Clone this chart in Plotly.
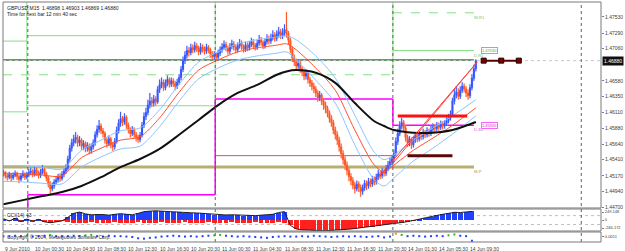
import plotly.graph_objects as go

# ---------------- data (M15 bars, bar index 0 = 9 Jun 2010 20:45) ----------------
first_open = 1.4520
close = [
 1.4522,1.4517,1.4515,1.4519,1.4514,1.4518,1.4521,1.4516,1.4512,1.4517,
 1.4520,1.4515,1.4518,1.4522,1.4524,1.4519,1.4526,1.4521,1.4518,1.4523,
 1.4527,1.4520,1.4514,1.4505,1.4498,1.4502,1.4508,1.4511,1.4516,1.4513,
 1.4519,1.4524,1.4528,1.4542,1.4558,1.4566,1.4571,1.4574,1.4566,1.4570,
 1.4561,1.4565,1.4558,1.4562,1.4555,1.4560,1.4566,1.4578,1.4586,1.4591,
 1.4584,1.4580,1.4570,1.4565,1.4572,1.4563,1.4560,1.4568,1.4584,1.4595,
 1.4602,1.4597,1.4604,1.4592,1.4585,1.4580,1.4586,1.4578,1.4574,1.4571,
 1.4577,1.4592,1.4605,1.4611,1.4622,1.4628,1.4625,1.4631,1.4627,1.4645,
 1.4652,1.4656,1.4648,1.4655,1.4660,1.4653,1.4658,1.4654,1.4650,1.4656,
 1.4663,1.4675,1.4688,1.4696,1.4703,1.4700,1.4707,1.4704,1.4710,1.4706,
 1.4701,1.4708,1.4705,1.4702,1.4708,1.4704,1.4698,1.4694,1.4697,1.4693,
 1.4699,1.4704,1.4708,1.4712,1.4707,1.4702,1.4709,1.4713,1.4708,1.4704,
 1.4710,1.4714,1.4709,1.4705,1.4711,1.4707,1.4712,1.4716,1.4711,1.4708,
 1.4714,1.4719,1.4715,1.4710,1.4716,1.4720,1.4717,1.4722,1.4726,1.4721,
 1.4727,1.4731,1.4725,1.4729,1.4734,1.4728,1.4718,1.4705,1.4692,1.4686,
 1.4680,1.4684,1.4676,1.4671,1.4665,1.4669,1.4660,1.4655,1.4650,1.4646,
 1.4640,1.4633,1.4637,1.4628,1.4622,1.4617,1.4610,1.4602,1.4596,1.4585,
 1.4578,1.4570,1.4560,1.4550,1.4541,1.4533,1.4525,1.4516,1.4510,1.4503,
 1.4498,1.4505,1.4500,1.4494,1.4499,1.4506,1.4502,1.4509,1.4505,1.4512,
 1.4508,1.4515,1.4520,1.4517,1.4524,1.4521,1.4528,1.4533,1.4538,1.4542,
 1.4550,1.4568,1.4580,1.4591,1.4596,1.4588,1.4574,1.4566,1.4571,1.4563,
 1.4570,1.4576,1.4572,1.4579,1.4575,1.4582,1.4578,1.4584,1.4580,1.4586,
 1.4590,1.4587,1.4592,1.4589,1.4594,1.4591,1.4595,1.4599,1.4603,1.4608,
 1.4628,1.4637,1.4641,1.4635,1.4644,1.4650,1.4646,1.4640,1.4636,1.4648,
 1.4662,1.4676,1.4688]
high = [
 1.4526,1.4524,1.4520,1.4523,1.4521,1.4522,1.4525,1.4523,1.4519,1.4521,
 1.4525,1.4522,1.4523,1.4527,1.4529,1.4527,1.4531,1.4529,1.4525,1.4527,
 1.4533,1.4530,1.4523,1.4517,1.4509,1.4507,1.4512,1.4516,1.4520,1.4521,
 1.4524,1.4529,1.4534,1.4547,1.4563,1.4572,1.4578,1.4582,1.4578,1.4576,
 1.4573,1.4570,1.4568,1.4567,1.4565,1.4565,1.4571,1.4583,1.4592,1.4600,
 1.4595,1.4588,1.4583,1.4574,1.4577,1.4575,1.4567,1.4573,1.4590,1.4601,
 1.4612,1.4606,1.4610,1.4607,1.4596,1.4589,1.4591,1.4589,1.4582,1.4578,
 1.4582,1.4597,1.4611,1.4618,1.4630,1.4640,1.4634,1.4637,1.4635,1.4650,
 1.4660,1.4663,1.4660,1.4660,1.4666,1.4663,1.4663,1.4662,1.4658,1.4661,
 1.4668,1.4680,1.4694,1.4702,1.4710,1.4708,1.4713,1.4712,1.4716,1.4714,
 1.4710,1.4714,1.4712,1.4709,1.4713,1.4711,1.4707,1.4702,1.4702,1.4700,
 1.4704,1.4709,1.4714,1.4718,1.4716,1.4710,1.4714,1.4719,1.4717,1.4711,
 1.4715,1.4720,1.4718,1.4712,1.4716,1.4715,1.4717,1.4722,1.4720,1.4714,
 1.4719,1.4726,1.4723,1.4718,1.4721,1.4727,1.4725,1.4728,1.4733,1.4730,
 1.4733,1.4738,1.4735,1.4736,1.4742,1.4760,1.4732,1.4722,1.4709,1.4697,
 1.4691,1.4690,1.4688,1.4680,1.4675,1.4675,1.4672,1.4664,1.4659,1.4655,
 1.4650,1.4644,1.4643,1.4640,1.4632,1.4627,1.4621,1.4614,1.4607,1.4600,
 1.4590,1.4583,1.4575,1.4565,1.4555,1.4546,1.4538,1.4530,1.4521,1.4515,
 1.4508,1.4510,1.4509,1.4504,1.4504,1.4511,1.4510,1.4514,1.4513,1.4517,
 1.4516,1.4520,1.4526,1.4524,1.4529,1.4528,1.4533,1.4539,1.4544,1.4548,
 1.4556,1.4574,1.4587,1.4598,1.4603,1.4600,1.4592,1.4578,1.4576,1.4574,
 1.4575,1.4581,1.4579,1.4584,1.4582,1.4587,1.4585,1.4589,1.4587,1.4591,
 1.4595,1.4594,1.4597,1.4596,1.4599,1.4598,1.4600,1.4604,1.4609,1.4614,
 1.4633,1.4645,1.4650,1.4647,1.4650,1.4656,1.4654,1.4650,1.4645,1.4653,
 1.4668,1.4682,1.4690]
low = [
 1.4516,1.4513,1.4510,1.4512,1.4509,1.4511,1.4515,1.4511,1.4506,1.4509,
 1.4514,1.4511,1.4512,1.4515,1.4518,1.4515,1.4516,1.4517,1.4513,1.4514,
 1.4519,1.4516,1.4509,1.4500,1.4490,1.4494,1.4498,1.4504,1.4507,1.4508,
 1.4510,1.4515,1.4520,1.4525,1.4538,1.4553,1.4561,1.4565,1.4560,1.4561,
 1.4556,1.4555,1.4552,1.4553,1.4549,1.4550,1.4556,1.4562,1.4574,1.4581,
 1.4579,1.4574,1.4565,1.4559,1.4561,1.4558,1.4554,1.4556,1.4565,1.4580,
 1.4590,1.4591,1.4593,1.4587,1.4580,1.4574,1.4576,1.4573,1.4568,1.4566,
 1.4567,1.4574,1.4588,1.4600,1.4607,1.4617,1.4619,1.4620,1.4621,1.4624,
 1.4640,1.4647,1.4643,1.4644,1.4650,1.4648,1.4649,1.4649,1.4644,1.4646,
 1.4652,1.4659,1.4671,1.4683,1.4691,1.4694,1.4696,1.4699,1.4700,1.4701,
 1.4696,1.4697,1.4700,1.4697,1.4698,1.4699,1.4692,1.4689,1.4690,1.4688,
 1.4690,1.4695,1.4700,1.4704,1.4702,1.4697,1.4698,1.4705,1.4703,1.4699,
 1.4700,1.4706,1.4704,1.4700,1.4701,1.4702,1.4703,1.4708,1.4706,1.4703,
 1.4704,1.4710,1.4710,1.4705,1.4706,1.4712,1.4712,1.4713,1.4718,1.4716,
 1.4717,1.4722,1.4720,1.4720,1.4724,1.4722,1.4712,1.4699,1.4686,1.4680,
 1.4674,1.4676,1.4670,1.4665,1.4659,1.4660,1.4654,1.4649,1.4644,1.4640,
 1.4634,1.4627,1.4628,1.4622,1.4615,1.4610,1.4604,1.4596,1.4590,1.4579,
 1.4571,1.4563,1.4553,1.4543,1.4534,1.4526,1.4518,1.4509,1.4503,1.4497,
 1.4491,1.4494,1.4493,1.4486,1.4489,1.4495,1.4496,1.4498,1.4500,1.4501,
 1.4503,1.4504,1.4511,1.4512,1.4513,1.4516,1.4517,1.4524,1.4529,1.4533,
 1.4537,1.4546,1.4563,1.4576,1.4586,1.4582,1.4568,1.4560,1.4561,1.4557,
 1.4559,1.4566,1.4567,1.4568,1.4570,1.4571,1.4573,1.4574,1.4575,1.4576,
 1.4582,1.4582,1.4583,1.4584,1.4585,1.4586,1.4587,1.4591,1.4595,1.4599,
 1.4604,1.4623,1.4632,1.4630,1.4631,1.4640,1.4641,1.4634,1.4630,1.4632,
 1.4644,1.4658,1.4672]

# moving averages read at sample bars
ma_idx = [0,10,20,30,40,50,60,70,80,90,100,110,120,130,140,145,150,160,170,180,190,195,200,210,220,230,242]
ma_slow = [1.4475,1.4481,1.4487,1.4493,1.4502,1.4515,1.4530,1.4542,1.4557,1.4578,1.4600,1.4622,1.4640,1.4652,
           1.4667,1.4672,1.4674,1.4670,1.4655,1.4625,1.4598,1.4591,1.4585,1.4581,1.4581,1.4585,1.4597]
ma_fast = [1.4521,1.4520,1.4518,1.4517,1.4544,1.4558,1.4570,1.4575,1.4603,1.4641,1.4674,1.4689,1.4701,1.4707,
           1.4711,1.4713,1.4704,1.4677,1.4644,1.4585,1.4533,1.4523,1.4533,1.4555,1.4573,1.4592,1.4618]
band_upper = [1.4532,1.4532,1.4530,1.4527,1.4555,1.4570,1.4584,1.4588,1.4615,1.4653,1.4686,1.4701,1.4713,1.4719,
              1.4723,1.4725,1.4719,1.4695,1.4662,1.4607,1.4552,1.4541,1.4548,1.4570,1.4588,1.4606,1.4630]
band_lower = [1.4509,1.4508,1.4506,1.4505,1.4530,1.4545,1.4557,1.4561,1.4590,1.4628,1.4661,1.4677,1.4689,1.4695,
              1.4699,1.4701,1.4689,1.4659,1.4625,1.4563,1.4511,1.4502,1.4514,1.4539,1.4558,1.4579,1.4606]

# CCI window, read every 3 bars
cci = [30,-20,40,-30,20,-25,15,-40,-60,-45,
       -20,60,150,180,140,120,130,125,110,130,
       145,130,120,150,190,200,210,200,190,180,
       175,170,165,160,150,140,125,120,115,120,
       110,100,105,100,110,115,130,170,190,-120,
       -200,-220,-230,-240,-235,-240,-235,-230,-220,-205,
       -190,-175,-160,-145,-130,-110,-95,-75,-55,-35,
       -15,20,50,80,110,130,150,175,170,185,195]
cci_trend = [0,0,0,0,0,0,0,0,0,0,
             0,-50,-55,-60,-55,-50,-55,-60,-55,-50,
             -55,-60,-55,-50,-55,-60,-55,-50,-55,-60,
             -55,-50,-55,-60,-55,-50,-55,-60,-55,-50,
             -55,-60,-55,-50,-55,-60,-55,-50,-55,0,
             0,0,0,0,0,0,0,0,0,0,
             0,0,0,0,0,0,0,0,0,0,
             0,0,0,0,0,0,0,0,0,0,0]
osc = [0.2,0.1,0.3,0.2,0.4,0.1,0.2,0.3,0.5,0.2,
       0.1,0.2,0.3,0.2,0.4,0.5,0.2,0.1,0.3,0.2,
       0.2,0.1,0.0,-0.3,-0.4,-0.2,-0.1,0.1,0.2,0.3,
       0.2,0.1,0.2,0.1,0.2,0.3,0.4,0.5,0.3,0.2,
       0.1,0.2,0.1,0.0,-0.1,-0.2,0.0,0.1,0.2,0.1,
       0.1,0.2,0.1,0.3,0.2,0.1,0.0,0.1,0.2,0.1,
       0.2,0.1,0.0,0.1,0.2,-0.1,0.1,0.8,0.5,0.2,
       0.3,0.2,0.1,0.2,0.3,0.2,0.4,0.6,0.3,0.2,-0.9]

# levels
bid = 1.46880
day_sep = [12.5, 108.5, 199.5]
future_sep = 296
green_hi = [1.4717, 1.4725]      # 9 Jun, 10 Jun
green_lo = [1.4612, 1.4621]
d_r1 = 1.4703                    # 14 Jun
weekly_r1 = [1.4667, 1.4759]     # previous week, this week
day_low = [1.4489, 1.4631, 1.4592]   # 10, 11, 14 Jun
open_11 = 1.4547
m_pivot = 1.4530
dk_green = 1.4689
zone_res = (202, 237.6, 1.4606)
zone_sup = (207, 230, 1.4547)
proj_idx = [246, 255, 264]
proj_price = 1.4688
trend_a = ([191, 242.7], [1.4511, 1.4686])
trend_b = ([199.6, 242.7], [1.4536, 1.4686])
line_end = 241

price_ticks = [1.47530,1.47290,1.47060,1.46580,1.46350,1.46110,1.45880,1.45640,1.45410,1.45170,1.44940,1.44700]
cci_ticks = [180, 0, -180]
cci_tick_text = ["249.148", "0", "-246.172"]
time_tick_idx = [0,15,31,47,63,79,95,111,127,143,159,175,191,206,222,238]
time_tick_text = ["9 Jun 2010","10 Jun 00:30","10 Jun 04:30","10 Jun 08:30","10 Jun 12:30","10 Jun 16:30",
                  "10 Jun 20:30","11 Jun 00:30","11 Jun 04:30","11 Jun 08:30","11 Jun 12:30","11 Jun 16:30",
                  "11 Jun 20:30","14 Jun 01:30","14 Jun 05:30","14 Jun 09:30"]

# ---------------- figure ----------------
n = len(close)
idx = list(range(n))
open_ = [first_open] + close[:-1]
cci_idx = [3 * k for k in range(len(cci))]
osc_idx = [3 * k for k in range(len(osc))]

X0, X1 = -0.21, 306.1
Y0, Y1 = 1.44693, 1.47750
FONT = "Liberation Sans"

fig = go.Figure()

# pale halo behind bars
fig.add_trace(go.Candlestick(
    x=idx, open=open_, high=high, low=low, close=close, whiskerwidth=0,
    increasing=dict(line=dict(color="rgba(185,190,255,0.45)", width=2), fillcolor="rgba(185,190,255,0.45)"),
    decreasing=dict(line=dict(color="rgba(255,190,180,0.45)", width=2), fillcolor="rgba(255,190,180,0.45)"),
    hoverinfo="skip", showlegend=False))
fig.add_trace(go.Candlestick(
    x=idx, open=open_, high=high, low=low, close=close, whiskerwidth=0,
    increasing=dict(line=dict(color="#3355ff", width=1), fillcolor="#3355ff"),
    decreasing=dict(line=dict(color="#ff5520", width=1), fillcolor="#ff5520"),
    showlegend=False))

for arr, col, w in [(band_upper, "#8cc4ff", 1), (band_lower, "#8cc4ff", 1),
                    (ma_fast, "#ff5030", 1), (ma_slow, "#101010", 2)]:
    fig.add_trace(go.Scatter(x=ma_idx, y=arr, mode="lines",
                             line=dict(color=col, width=w, shape="spline", smoothing=0.8),
                             showlegend=False, hoverinfo="skip"))

for tl in (trend_a, trend_b):
    fig.add_trace(go.Scatter(x=tl[0], y=tl[1], mode="lines", line=dict(color="#ff4040", width=1),
                             showlegend=False, hoverinfo="skip"))

fig.add_trace(go.Scatter(x=proj_idx, y=[proj_price] * len(proj_idx), mode="lines+markers",
                         line=dict(color="#5a0000", width=2),
                         marker=dict(symbol="square", size=5, color="#800000", line=dict(color="#200000", width=1)),
                         showlegend=False, hoverinfo="skip"))

# CCI window
fig.add_trace(go.Bar(x=cci_idx, y=cci_trend, yaxis="y2", width=2.4, marker=dict(color="#ff2020", line=dict(width=0)),
                     showlegend=False, hoverinfo="skip"))
fig.add_trace(go.Bar(x=cci_idx, y=cci, yaxis="y2", width=2.6,
                     marker=dict(color=["#2040ff" if v >= 0 else "#ff2020" for v in cci], line=dict(width=0)),
                     showlegend=False, hoverinfo="skip"))
fig.add_trace(go.Scatter(x=cci_idx, y=cci, yaxis="y2", mode="lines", line=dict(color="#202020", width=1),
                         showlegend=False, hoverinfo="skip"))

# third window
fig.add_trace(go.Scatter(x=osc_idx, y=osc, yaxis="y3", mode="markers",
                         marker=dict(symbol="square", size=2,
                                     color=["#ff8c00" if v >= 0.7 else ("#20c020" if v >= 0.4 else "#2040ff") for v in osc]),
                         showlegend=False, hoverinfo="skip"))

shapes = []
def seg(x0, x1, y0, y1, color, width=1, dash="solid", layer="below", yref="y"):
    shapes.append(dict(type="line", xref="x", yref=yref, x0=x0, x1=x1, y0=y0, y1=y1,
                       line=dict(color=color, width=width, dash=dash), layer=layer))

LG = "#86e086"
# pivots (light green)
seg(X0, day_sep[0] - 0.5, green_hi[0], green_hi[0], LG)
seg(X0, day_sep[0] - 0.5, green_lo[0], green_lo[0], LG)
seg(day_sep[0] - 0.5, day_sep[0] - 0.5, Y1, green_lo[0], LG)
seg(day_sep[0] - 0.5, day_sep[1], green_hi[1], green_hi[1], LG)
seg(day_sep[0] - 0.5, day_sep[1], green_lo[1], green_lo[1], LG)
seg(day_sep[1], day_sep[1], Y1, green_lo[1], LG)
seg(day_sep[2], day_sep[2], Y1, weekly_r1[0], LG)
seg(day_sep[2], line_end, d_r1, d_r1, LG)
seg(X0, day_sep[2], weekly_r1[0], weekly_r1[0], LG, 1, "dash")
seg(day_sep[2], line_end, weekly_r1[1], weekly_r1[1], LG, 1, "dash")
# long levels
seg(X0, line_end, dk_green, dk_green, "#6e946e", 2)
seg(X0, line_end, m_pivot, m_pivot, "#b9ae6e", 3)
# magenta daily lows
MG = "#ff00ff"
seg(day_sep[0], day_sep[0], Y0, day_low[0], MG, 1.5)
seg(day_sep[0], day_sep[1], day_low[0], day_low[0], MG, 1.5)
seg(day_sep[1], day_sep[1], day_low[0], day_low[1], MG, 1.5)
seg(day_sep[1], day_sep[2], day_low[1], day_low[1], MG, 1.5)
seg(day_sep[2], day_sep[2], day_low[1], day_low[2], MG, 1.5)
seg(day_sep[2], line_end, day_low[2], day_low[2], MG, 1.5)
# red thin open line
seg(day_sep[1], day_sep[2], open_11, open_11, "#e05050", 1)
seg(day_sep[2], day_sep[2], open_11, m_pivot, "#e05050", 1)
# zones
seg(zone_res[0], zone_res[1], zone_res[2], zone_res[2], "#ff1010", 3, layer="above")
seg(zone_sup[0], zone_sup[1], zone_sup[2], zone_sup[2], "#5a0808", 3, layer="above")
# bid line
seg(X0, X1, bid, bid, "#c8c8c8", 1, "dot")

# separators
for xs in day_sep + [future_sep]:
    shapes.append(dict(type="line", xref="x", yref="paper", x0=xs, x1=xs, y0=0, y1=1,
                       line=dict(color="#606060", width=1, dash="dot"), layer="above"))
# CCI levels
for lv in (100, -100):
    shapes.append(dict(type="line", xref="paper", yref="y2", x0=0, x1=1, y0=lv, y1=lv,
                       line=dict(color="#c0c0c0", width=1, dash="dot"), layer="below"))

D_MAIN = [0.14167, 1.0]
D_CCI = [0.04583, 0.1375]
D_SUB = [0.0, 0.04167]
for d in (D_MAIN, D_CCI, D_SUB):
    shapes.append(dict(type="rect", xref="paper", yref="paper", x0=0, x1=1, y0=d[0], y1=d[1],
                       line=dict(color="#7a7a7a", width=1), fillcolor="rgba(0,0,0,0)", layer="above"))

ann = []
def txt(x, y, s, size=5, color="#303030", xref="x", yref="y", xa="left", ya="middle", **kw):
    ann.append(dict(x=x, y=y, xref=xref, yref=yref, text=s, showarrow=False, xanchor=xa, yanchor=ya,
                    font=dict(family=FONT, size=size, color=color), **kw))

txt(0.003, 1.0, "GBPUSD,M15  1.46898 1.46903 1.46869 1.46880", xref="paper", yref="paper", ya="top", yshift=-1, color="#202020")
txt(0.003, 1.0, "Time for next bar 12 min 40 sec", xref="paper", yref="paper", ya="top", yshift=-7, color="#202020")
txt(0.003, D_CCI[1], "CCI(14) 43", xref="paper", yref="paper", ya="top", yshift=-1, color="#202020")
txt(0.003, (D_SUB[0] + D_SUB[1]) / 2, "Copyright © 2004, MetaQuotes Software Corp.", xref="paper", yref="paper", color="#303030")

txt(line_end - 1, weekly_r1[1], "W-R1", size=4, color="#70c070", ya="top")
txt(line_end - 1, d_r1, "D-R1", size=4, color="#70c070", ya="top")
txt(line_end - 1, day_low[2], "D-S1", size=4, color="#d050d0", ya="top")
txt(line_end - 1, m_pivot, "M-P", size=4, color="#a09860", ya="top")
txt(line_end + 3.5, d_r1, "%.5f" % d_r1, size=4, color="#40b040", bgcolor="white", bordercolor="#70d070", borderwidth=1, borderpad=0)
txt(line_end + 3.5, day_low[2], "%.5f" % day_low[2], size=4, color="#c020c0", bgcolor="white", bordercolor="#ff60ff", borderwidth=1, borderpad=0)
txt(1.0, bid, "%.5f" % bid, size=5, color="white", xref="paper", bgcolor="#101010", borderpad=1, xshift=1)

for ti, tt in zip(time_tick_idx, time_tick_text):
    txt(ti, 0, tt, xref="x", yref="paper", ya="top", yshift=-2, color="#404040")

fig.update_layout(
    width=625, height=251, margin=dict(l=3, r=18, t=2, b=9),
    paper_bgcolor="white", plot_bgcolor="white", barmode="overlay", bargap=0,
    showlegend=False, shapes=shapes, annotations=ann,
    font=dict(family=FONT, size=5, color="#404040"),
    xaxis=dict(range=[X0, X1], showgrid=False, zeroline=False, showticklabels=False, ticks="",
               rangeslider=dict(visible=False), fixedrange=True),
    yaxis=dict(domain=D_MAIN, range=[Y0, Y1], side="right", showgrid=False, zeroline=False,
               tickvals=price_ticks, ticktext=["%.5f" % v for v in price_ticks],
               ticks="outside", ticklen=2, tickcolor="#808080", tickfont=dict(size=5, color="#404040")),
    yaxis2=dict(domain=D_CCI, range=[-246.172, 249.148], anchor="x", side="right", showgrid=False, zeroline=False,
                tickvals=cci_ticks, ticktext=cci_tick_text,
                ticks="outside", ticklen=2, tickcolor="#808080", tickfont=dict(size=4, color="#404040")),
    yaxis3=dict(domain=D_SUB, range=[-1.2, 1.2], anchor="x", side="right", showgrid=False, zeroline=False,
                tickvals=[0], ticktext=["0.0051"],
                ticks="outside", ticklen=2, tickcolor="#808080", tickfont=dict(size=4, color="#404040")),
)

fig.write_html("out.html", config={"displayModeBar": False})
